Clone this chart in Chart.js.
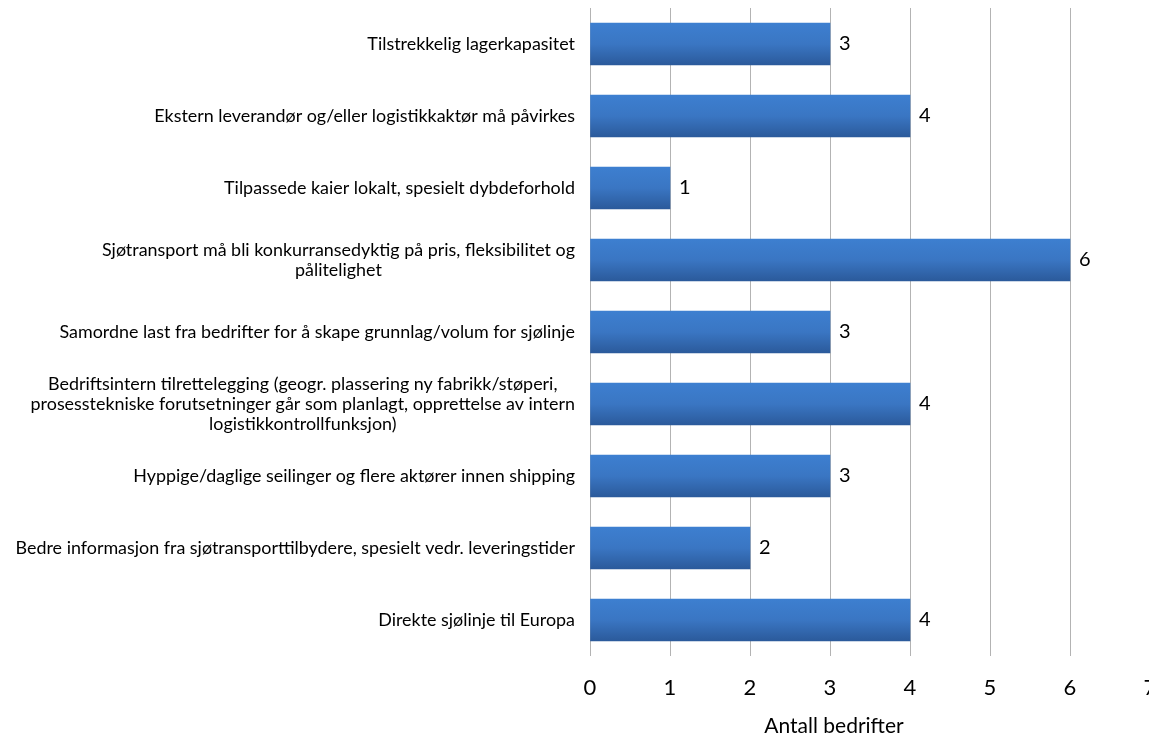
<!DOCTYPE html>
<html>
<head>
<meta charset="utf-8">
<script src="https://cdn.jsdelivr.net/npm/chart.js@4"></script>
<style>
  html, body { margin: 0; padding: 0; background: #fff; overflow: hidden; }
  #wrap { width: 1180px; height: 738px; }
</style>
</head>
<body>
<div id="wrap"><canvas id="data-chart" width="1180" height="738"></canvas></div>
<script>
var categories = [
    ['Tilstrekkelig lagerkapasitet'],
    ['Ekstern leverandør og/eller logistikkaktør må påvirkes'],
    ['Tilpassede kaier lokalt, spesielt dybdeforhold'],
    ['Sjøtransport må bli konkurransedyktig på pris, fleksibilitet og', 'pålitelighet'],
    ['Samordne last fra bedrifter for å skape grunnlag/volum for sjølinje'],
    ['Bedriftsintern tilrettelegging (geogr. plassering ny fabrikk/støperi,', 'prosesstekniske forutsetninger går som planlagt, opprettelse av intern', 'logistikkontrollfunksjon)'],
    ['Hyppige/daglige seilinger og flere aktører innen shipping'],
    ['Bedre informasjon fra sjøtransporttilbydere, spesielt vedr. leveringstider'],
    ['Direkte sjølinje til Europa']
];
var counts = [3, 4, 1, 6, 3, 4, 3, 2, 4];
var xTicks = [0, 1, 2, 3, 4, 5, 6, 7];
var axisTitle = 'Antall bedrifter';

var FONT = "Lato, 'Open Sans', sans-serif";
var BAR_H = 42;

// category labels: lines centred inside a right-aligned block
var catLabels = {
    id: 'catLabels',
    afterDraw: function(chart) {
        var c = chart.ctx, y = chart.scales.y;
        c.save();
        c.font = '17.9px ' + FONT;
        c.fillStyle = '#000';
        c.textBaseline = 'middle';
        c.textAlign = 'center';
        categories.forEach(function(lines, i) {
            var w = 0;
            lines.forEach(function(l) { w = Math.max(w, c.measureText(l).width); });
            var right = chart.chartArea.left - 15;
            var cx = right - w / 2;
            var lh = 20;
            var y0 = y.getPixelForValue(i) - (lines.length - 1) * lh / 2;
            lines.forEach(function(l, k) { c.fillText(l, cx, y0 + k * lh); });
        });
        c.restore();
    }
};

// value labels next to the bars + axis title
var valueLabels = {
    id: 'valueLabels',
    afterDatasetsDraw: function(chart) {
        var c = chart.ctx;
        c.save();
        c.font = '20px ' + FONT;
        c.fillStyle = '#000';
        c.textBaseline = 'middle';
        c.textAlign = 'left';
        chart.getDatasetMeta(0).data.forEach(function(bar, i) {
            c.fillText(String(counts[i]), bar.x + 9, bar.y);
        });
        c.font = '21px ' + FONT;
        c.textAlign = 'center';
        c.fillText(axisTitle, chart.scales.x.getPixelForValue(3.05), 726);
        c.restore();
    }
};

var ctx = document.getElementById('data-chart').getContext('2d');
var chart = new Chart(ctx, {
    type: 'bar',
    data: {
        labels: categories,
        datasets: [{
            data: counts,
            backgroundColor: function(context) {
                var ch = context.chart;
                if (!ch.chartArea) return '#3a74bd';
                var yc = ch.scales.y.getPixelForValue(context.dataIndex);
                var g = ch.ctx.createLinearGradient(0, yc - BAR_H / 2, 0, yc + BAR_H / 2);
                g.addColorStop(0, '#3d7fd0');
                g.addColorStop(0.5, '#3a76c3');
                g.addColorStop(1, '#2b5a9b');
                return g;
            },
            borderWidth: 0,
            barThickness: BAR_H
        }]
    },
    options: {
        indexAxis: 'y',
        responsive: false,
        animation: false,
        layout: { padding: { top: 8, right: 30, bottom: 0, left: 0 } },
        plugins: { legend: { display: false }, tooltip: { enabled: false } },
        scales: {
            x: {
                min: 0,
                max: 7,
                afterBuildTicks: function(s) { s.ticks = xTicks.map(function(v) { return { value: v }; }); },
                grid: { color: '#b3b3b3', lineWidth: 1, drawTicks: false },
                border: { display: false },
                ticks: { font: { family: FONT, size: 22 }, color: '#000', padding: 19 },
                afterFit: function(s) { s.height = 82; }
            },
            y: {
                grid: { display: false },
                border: { display: false },
                ticks: { display: false },
                afterFit: function(s) { s.width = 590; }
            }
        }
    },
    plugins: [catLabels, valueLabels]
});
</script>
</body>
</html>
